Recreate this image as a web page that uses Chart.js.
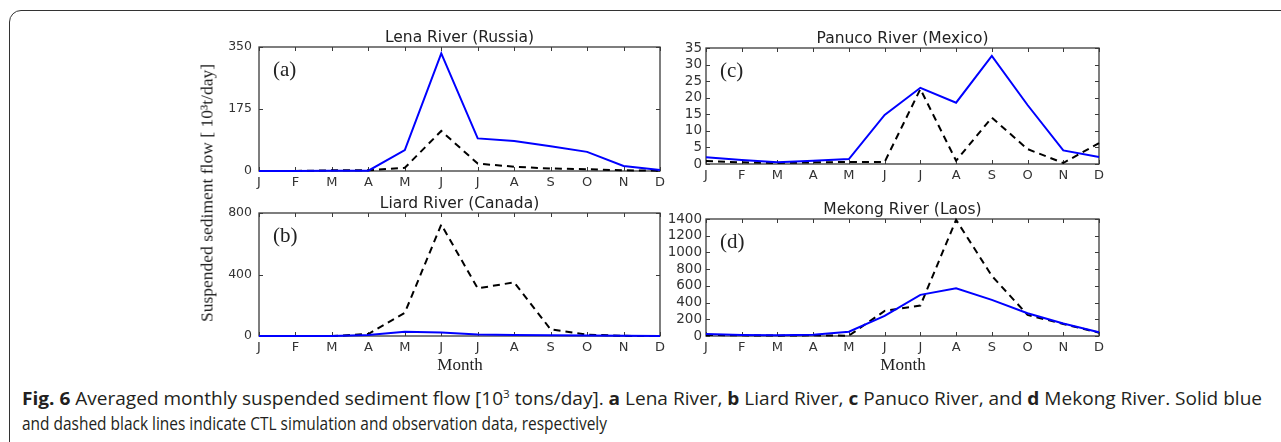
<!DOCTYPE html>
<html>
<head>
<meta charset="utf-8">
<script src="https://cdn.jsdelivr.net/npm/chart.js@4.4.1/dist/chart.umd.min.js"></script>
<style>
  body { margin: 0; background: #fff; width: 1281px; height: 442px; overflow: hidden; position: relative; }
  .box { position: absolute; left: 9px; top: 10px; width: 1400px; height: 600px; border: 1.5px solid #333; border-top-left-radius: 12px; box-sizing: border-box; }
  .panel { position: absolute; }
  .ylab { position: absolute; left: 207px; top: 193px; transform: translate(-50%, -50%) rotate(-90deg); font-family: "Liberation Serif", serif; font-size: 17.5px; color: #222; white-space: nowrap; }
  .xlab { position: absolute; top: 355px; transform: translateX(-50%); font-family: "Liberation Serif", serif; font-size: 17px; color: #222; }
  .cap { position: absolute; left: 22px; font-family: "Open Sans", sans-serif; font-size: 18px; color: #231f20; white-space: nowrap; transform-origin: 0 0; }
  .cap sup { font-size: 11px; }
</style>
</head>
<body>
<div class="box"></div>
<canvas id="ca" class="panel"></canvas>
<canvas id="cb" class="panel"></canvas>
<canvas id="cc" class="panel"></canvas>
<canvas id="cd" class="panel"></canvas>
<div class="ylab">Suspended sediment flow [ 10³t/day]</div>
<div class="xlab" style="left:460px">Month</div>
<div class="xlab" style="left:903px">Month</div>
<div class="cap" id="cap1" style="top:386px"><b>Fig. 6</b> Averaged monthly suspended sediment flow [10<sup>3</sup> tons/day]. <b>a</b> Lena River, <b>b</b> Liard River, <b>c</b> Panuco River, and <b>d</b> Mekong River. Solid blue</div>
<div class="cap" id="cap2" style="top:411px">and dashed black lines indicate CTL simulation and observation data, respectively</div>
<script>
const months = ['J', 'F', 'M', 'A', 'M', 'J', 'J', 'A', 'S', 'O', 'N', 'D'];

// Lena River (Russia)
const lenaCtl = [0, 0, 1, 1, 59, 332, 92, 85, 70, 54, 14, 3];
const lenaObs = [0, 0, 2, 2, 9, 113, 21, 12, 7, 5, 2, 1];
const lenaTicks = [0, 175, 350];

// Liard River (Canada)
const liardCtl = [0, 0, 0, 6, 28, 22, 9, 7, 5, 3, 1, 0];
const liardObs = [0, 0, 0, 13, 151, 725, 310, 349, 43, 9, 1, 0];
const liardTicks = [0, 400, 800];

// Panuco River (Mexico)
const panucoCtl = [2.0, 1.2, 0.5, 1.0, 1.5, 14.8, 23.0, 18.5, 32.6, 17.8, 4.1, 2.1];
const panucoObs = [0.9, 0.5, 0.3, 0.5, 0.6, 0.6, 22.6, 1.0, 14.0, 4.5, 0.3, 6.3];
const panucoTicks = [0, 5, 10, 15, 20, 25, 30, 35];

// Mekong River (Laos)
const mekongCtl = [24, 12, 8, 16, 52, 240, 492, 572, 432, 272, 150, 44];
const mekongObs = [12, 8, 4, 8, 4, 300, 364, 1390, 720, 252, 144, 40];
const mekongTicks = [0, 200, 400, 600, 800, 1000, 1200, 1400];

Chart.defaults.font.family = 'DejaVu Sans';
Chart.defaults.color = '#333';

const PAD_L = 60, PAD_T = 24, PAD_R = 8, PAD_B = 26;

// frame, inward ticks, title and panel letter
const panelDeco = {
  id: 'panelDeco',
  beforeDatasetsDraw(chart) {
    const { ctx, chartArea: a, scales: { x, y } } = chart;
    ctx.save();
    ctx.strokeStyle = '#3a3a3a';
    ctx.lineWidth = 1.3;
    ctx.strokeRect(a.left, a.top, a.right - a.left, a.bottom - a.top);
    ctx.lineWidth = 1;
    ctx.beginPath();
    x.ticks.forEach((t, i) => {
      const px = Math.round(x.getPixelForTick(i)) + 0.5;
      ctx.moveTo(px, a.bottom); ctx.lineTo(px, a.bottom - 4);
      ctx.moveTo(px, a.top); ctx.lineTo(px, a.top + 4);
    });
    y.ticks.forEach((t, i) => {
      const py = Math.round(y.getPixelForTick(i)) + 0.5;
      ctx.moveTo(a.left, py); ctx.lineTo(a.left + 4, py);
      ctx.moveTo(a.right, py); ctx.lineTo(a.right - 4, py);
    });
    ctx.stroke();
    ctx.restore();
  },
  afterDraw(chart, args, opts) {
    const { ctx, chartArea: a } = chart;
    ctx.save();
    ctx.fillStyle = '#222';
    ctx.textAlign = 'center';
    ctx.textBaseline = 'alphabetic';
    ctx.font = '15.5px "DejaVu Sans"';
    ctx.fillText(opts.title, (a.left + a.right) / 2, a.top - 5);
    ctx.textAlign = 'left';
    ctx.font = '21px "Liberation Serif"';
    ctx.fillText(opts.letter, a.left + 14, a.top + 29);
    ctx.restore();
  }
};

function makePanel(id, L, T, R, B, title, letter, ctl, obs, ticks, fontSize, yPad) {
  const cv = document.getElementById(id);
  cv.width = (R - L) + PAD_L + PAD_R;
  cv.height = (B - T) + PAD_T + PAD_B;
  cv.style.left = (L - PAD_L) + 'px';
  cv.style.top = (T - PAD_T) + 'px';
  new Chart(cv, {
    type: 'line',
    data: {
      labels: months,
      datasets: [{
        label: 'CTL',
        data: ctl,
        borderColor: '#0000ff',
        borderWidth: 2,
        pointRadius: 0,
        tension: 0,
        clip: 4
      }, {
        label: 'Observation',
        data: obs,
        borderColor: '#000',
        borderWidth: 2,
        borderDash: [7, 5],
        pointRadius: 0,
        tension: 0,
        clip: 4
      }]
    },
    options: {
      responsive: false,
      animation: false,
      layout: { padding: { top: PAD_T, right: PAD_R, left: 0, bottom: 0 } },
      plugins: {
        legend: { display: false },
        tooltip: { enabled: false },
        panelDeco: { title: title, letter: letter }
      },
      scales: {
        x: {
          offset: false,
          grid: { display: false, drawTicks: false },
          border: { display: false },
          ticks: { font: { size: 13 }, padding: 4, maxRotation: 0, autoSkip: false },
          afterFit(s) { s.height = PAD_B; }
        },
        y: {
          min: ticks[0],
          max: ticks[ticks.length - 1],
          afterBuildTicks(s) { s.ticks = ticks.map(v => ({ value: v })); },
          grid: { display: false, drawTicks: false },
          border: { display: false },
          ticks: { font: { size: fontSize }, padding: yPad, autoSkip: false, callback: v => String(v) },
          afterFit(s) { s.width = PAD_L; }
        }
      }
    },
    plugins: [panelDeco]
  });
}

makePanel('ca', 259, 47, 661, 171, 'Lena River (Russia)', '(a)', lenaCtl, lenaObs, lenaTicks, 12.5, 7);
makePanel('cb', 259, 213, 661, 336, 'Liard River (Canada)', '(b)', liardCtl, liardObs, liardTicks, 12.5, 7);
makePanel('cc', 706, 48, 1100, 164, 'Panuco River (Mexico)', '(c)', panucoCtl, panucoObs, panucoTicks, 13.5, 4);
makePanel('cd', 706, 219, 1100, 336, 'Mekong River (Laos)', '(d)', mekongCtl, mekongObs, mekongTicks, 13.5, 4);

// squeeze caption lines to the reference widths
[['cap1', 1240], ['cap2', 585]].forEach(([id, w]) => {
  const el = document.getElementById(id);
  const k = w / el.getBoundingClientRect().width;
  el.style.transform = 'scaleX(' + k.toFixed(4) + ')';
});
</script>
</body>
</html>
